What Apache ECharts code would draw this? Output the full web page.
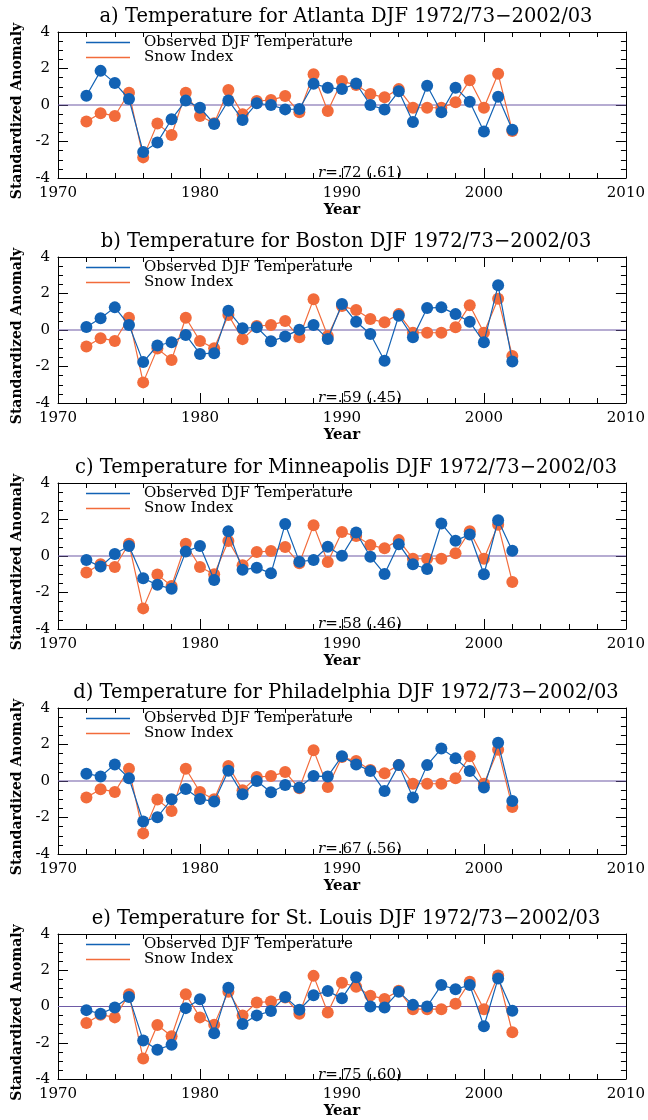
<!DOCTYPE html>
<html><head><meta charset="utf-8">
<script src="https://cdn.jsdelivr.net/npm/echarts@6/dist/echarts.min.js"></script>
<style>html,body{margin:0;padding:0;background:#fff}#c{width:648px;height:1120px}</style>
</head><body><div id="c"></div>
<script>
const years = [1972,1973,1974,1975,1976,1977,1978,1979,1980,1981,1982,1983,1984,1985,1986,1987,1988,1989,1990,1991,1992,1993,1994,1995,1996,1997,1998,1999,2000,2001,2002];
const snowIndex = [-0.91,-0.45,-0.6,0.67,-2.87,-1.02,-1.64,0.67,-0.6,-1.0,0.82,-0.5,0.22,0.27,0.49,-0.4,1.69,-0.33,1.31,1.09,0.6,0.42,0.87,-0.15,-0.15,-0.15,0.15,1.36,-0.15,1.71,-1.42];
const atlanta = [0.51,1.87,1.2,0.33,-2.58,-2.05,-0.78,0.24,-0.15,-1.04,0.25,-0.82,0.09,0.0,-0.24,-0.22,1.16,0.95,0.87,1.18,0.0,-0.25,0.75,-0.93,1.05,-0.4,0.95,0.18,-1.45,0.45,-1.36];
const boston = [0.16,0.64,1.24,0.27,-1.76,-0.85,-0.67,-0.27,-1.31,-1.27,1.05,0.09,0.15,-0.62,-0.35,0.02,0.27,-0.49,1.42,0.45,-0.22,-1.69,0.78,-0.4,1.2,1.24,0.87,0.45,-0.67,2.45,-1.73];
const minneapolis = [-0.22,-0.58,0.11,0.55,-1.22,-1.58,-1.8,0.24,0.55,-1.31,1.36,-0.76,-0.64,-0.95,1.75,-0.31,-0.22,0.51,0.02,1.29,-0.04,-0.98,0.65,-0.45,-0.71,1.78,0.84,1.18,-1.0,1.96,0.29];
const philadelphia = [0.4,0.25,0.91,0.15,-2.22,-1.98,-1.0,-0.44,-0.98,-1.13,0.56,-0.73,0.0,-0.62,-0.22,-0.36,0.27,0.25,1.36,0.91,0.55,-0.55,0.87,-0.91,0.87,1.78,1.24,0.55,-0.35,2.09,-1.09];
const stlouis = [-0.2,-0.4,-0.05,0.53,-1.87,-2.38,-2.11,-0.09,0.4,-1.47,1.04,-0.96,-0.49,-0.25,0.53,-0.18,0.62,0.85,0.45,1.62,0.0,-0.05,0.82,0.09,0.0,1.18,0.95,1.18,-1.09,1.55,-0.24];
const titles = ['a) Temperature for Atlanta DJF 1972/73\u22122002/03','b) Temperature for Boston DJF 1972/73\u22122002/03','c) Temperature for Minneapolis DJF 1972/73\u22122002/03','d) Temperature for Philadelphia DJF 1972/73\u22122002/03','e) Temperature for St. Louis DJF 1972/73\u22122002/03'];
const rTexts = ['.72 (.61)','.59 (.45)','.58 (.46)','.67 (.56)','.75 (.60)'];
const observed = [atlanta, boston, minneapolis, philadelphia, stlouis];
const obsName = 'Observed DJF Temperature';
const snowName = 'Snow Index';

const FONT = 'DejaVu Serif';
const BLUE = '#1262b4', ORANGE = '#f26b3b', PURPLE = '#6e5aa6';
const tops = [32, 257, 483, 708, 934];
const gridLeft = 58, gridW = 572, gridH = 146;

const option = {backgroundColor:'#fff', animation:false, title:[], legend:[], grid:[], xAxis:[], yAxis:[], series:[]};
const pair = arr => years.map((y,i)=>[y, arr[i]]);

tops.forEach((top, p) => {
  option.grid.push({left:gridLeft, top:top, width:gridW, height:gridH, containLabel:false});
  option.title.push({text:titles[p], left:341, textAlign:'center', top:top-30,
    textStyle:{fontFamily:FONT, fontSize:19.5, fontWeight:'normal', color:'#000'}});
  option.title.push({text:'{i|r}='+rTexts[p], left:313, top:top+gridH-17,
    textStyle:{fontFamily:FONT, fontSize:15, fontWeight:'normal', color:'#000',
      rich:{i:{fontFamily:FONT, fontSize:15, fontStyle:'italic', color:'#000'}}}});
  option.legend.push({data:[obsName, snowName], orient:'vertical', left:86, top:top+3, padding:0,
    icon:'rect', itemWidth:44, itemHeight:1.4, itemGap:0, selectedMode:false,
    textStyle:{fontFamily:FONT, fontSize:15, color:'#000', lineHeight:13, padding:[0,0,0,9]}});
  const tick = {show:true, inside:true, length:10, lineStyle:{color:'#000', width:1}};
  const minor = {show:true, length:5, lineStyle:{color:'#000', width:1}};
  option.xAxis.push({type:'value', gridIndex:p, position:'bottom', min:1970, max:2010, interval:10,
    axisLine:{show:true, onZero:false, lineStyle:{color:'#000', width:1}}, axisTick:tick,
    minorTick:Object.assign({splitNumber:5}, minor), splitLine:{show:false},
    axisLabel:{fontFamily:FONT, fontSize:15, color:'#000', margin:8, formatter: v => String(v)},
    name:'Year', nameLocation:'middle', nameGap:25,
    nameTextStyle:{fontFamily:FONT, fontSize:15, fontWeight:'bold', color:'#000'}});
  option.xAxis.push({type:'value', gridIndex:p, position:'top', min:1970, max:2010, interval:10,
    axisLine:{show:true, onZero:false, lineStyle:{color:'#000', width:1}}, axisTick:tick,
    minorTick:Object.assign({splitNumber:5}, minor), splitLine:{show:false}, axisLabel:{show:false}});
  option.yAxis.push({type:'value', gridIndex:p, position:'left', min:-4, max:4, interval:2,
    axisLine:{show:true, onZero:false, lineStyle:{color:'#000', width:1}}, axisTick:tick,
    minorTick:Object.assign({splitNumber:4}, minor), splitLine:{show:false},
    axisLabel:{fontFamily:FONT, fontSize:15, color:'#000', margin:8},
    name:'Standardized Anomaly', nameLocation:'middle', nameGap:33,
    nameTextStyle:{fontFamily:FONT, fontSize:14, fontWeight:'bold', color:'#000', padding:[0,0,0,-12]}});
  option.yAxis.push({type:'value', gridIndex:p, position:'right', min:-4, max:4, interval:2,
    axisLine:{show:true, onZero:false, lineStyle:{color:'#000', width:1}}, axisTick:tick,
    minorTick:Object.assign({splitNumber:4}, minor), splitLine:{show:false}, axisLabel:{show:false}});
  option.series.push({type:'line', xAxisIndex:2*p, yAxisIndex:2*p, data:[[1970,0],[2010,0]],
    symbol:'none', silent:true, z:1, lineStyle:{color:PURPLE, width:1.2}});
  option.series.push({type:'line', name:snowName, xAxisIndex:2*p, yAxisIndex:2*p, data:pair(snowIndex),
    symbol:'circle', symbolSize:12, z:2, color:ORANGE, lineStyle:{color:ORANGE, width:1.2},
    itemStyle:{color:ORANGE}});
  option.series.push({type:'line', name:obsName, xAxisIndex:2*p, yAxisIndex:2*p, data:pair(observed[p]),
    symbol:'circle', symbolSize:12, z:3, color:BLUE, lineStyle:{color:BLUE, width:1.2},
    itemStyle:{color:BLUE}});
});
const chart = echarts.init(document.getElementById('c'), null, {renderer:'canvas'});
chart.setOption(option);
</script></body></html>
